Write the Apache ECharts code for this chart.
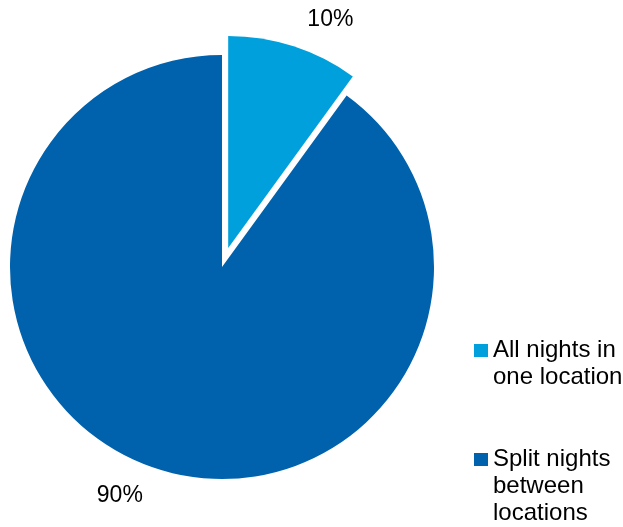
<!DOCTYPE html>
<html>
<head>
<meta charset="utf-8">
<script src="https://cdn.jsdelivr.net/npm/echarts@6/dist/echarts.min.js"></script>
<style>
  html, body { margin: 0; padding: 0; background: #fff; }
  #chartmain_pie { width: 623px; height: 527px; }
</style>
</head>
<body>
<div id="chartmain_pie"></div>
<script>
// 数据
var categories = ['All nights in one location', 'Split nights between locations'];
var shares = [10, 90];
var colors = ['#00A0DC', '#0062AD'];

var pie = echarts.init(document.getElementById('chartmain_pie'));

var fontName = '"Liberation Sans", Arial, sans-serif';

// 每项一个图例，空行让色块对齐第一行文字
function makeLegend(i, top, lines) {
    var pad = new Array(lines).join('\n');
    return {
        orient: 'vertical',
        left: 474,
        top: top,
        padding: 0,
        itemWidth: 14,
        itemHeight: 13,
        icon: 'rect',
        selectedMode: false,
        data: [categories[i]],
        formatter: function (name) { return pad + name; },
        textStyle: {
            color: '#000',
            fontSize: 24,
            fontFamily: fontName,
            lineHeight: 27,
            width: 135,
            overflow: 'break'
        }
    };
}

option = {
    animation: false,
    color: colors,
    legend: [
        makeLegend(0, 310, 2),
        makeLegend(1, 392, 3)
    ],
    series: [
        {
            type: 'pie',
            radius: 212,
            center: [222, 267],
            startAngle: 90,
            clockwise: true,
            selectedMode: 'single',
            selectedOffset: 20,
            label: {
                show: true,
                position: 'outside',
                formatter: '{c}%',
                color: '#000',
                fontSize: 23,
                fontFamily: fontName
            },
            labelLine: {
                show: false,
                length: 28,
                length2: 0
            },
            emphasis: { disabled: true },
            data: categories.map(function (name, i) {
                return { name: name, value: shares[i], selected: i === 0 };
            })
        }
    ]
};
pie.setOption(option);
</script>
</body>
</html>
